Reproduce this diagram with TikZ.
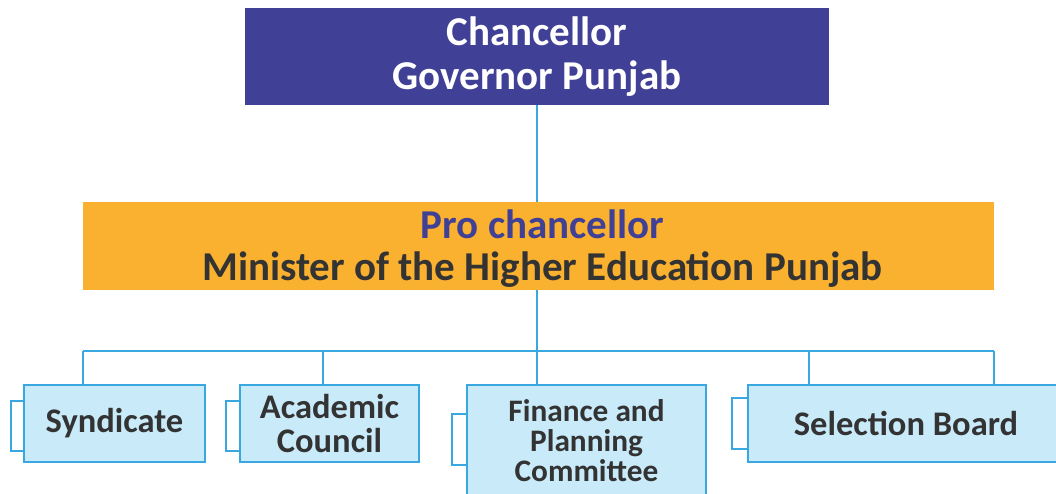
\documentclass[tikz,border=0pt]{standalone}
\usepackage{fontspec}
\setmainfont{Carlito}
\definecolor{chanc}{HTML}{3F4096}
\definecolor{proc}{HTML}{FAB12F}
\definecolor{lbfill}{HTML}{C8EAF9}
\definecolor{lbline}{HTML}{3AA8E0}
\definecolor{dtext}{HTML}{333333}
\tikzset{
  topbox/.style={rectangle, fill=chanc, text=white, align=center, inner sep=0pt,
    font=\fontsize{41}{44}\selectfont\bfseries},
  probox/.style={rectangle, fill=proc, text=dtext, align=center, inner sep=0pt,
    font=\fontsize{41}{42}\selectfont\bfseries},
  subbox/.style={rectangle, fill=lbfill, draw=lbline, line width=1.5pt, text=dtext, align=center, inner sep=0pt,
    font=\fontsize{34.5}{34}\selectfont\bfseries},
  conn/.style={draw=lbline, line width=1.4pt},
  bracket/.style={draw=lbline, line width=1.4pt, fill=white}
}
\begin{document}
\begin{tikzpicture}[x=1pt,y=-1pt]
\useasboundingbox (0,0) rectangle (1056,493);
\clip (0,0) rectangle (1056,493);
\fill[white] (0,0) rectangle (1056,493);

\node[topbox, minimum width=584pt, minimum height=97pt] (chan) at (537,56.5) {Chancellor\\Governor Punjab};
\node[probox, minimum width=911pt, minimum height=88pt] (pro) at (538.5,246) {};
\node[probox, fill=none] (protext) at (542.5,248.5) {\textcolor{chanc}{Pro chancellor}\\Minister of the Higher Education Punjab};

% brackets
\draw[bracket] (24,401) -- (11,401) -- (11,451) -- (24,451);
\draw[bracket] (240,401) -- (226,401) -- (226,451) -- (240,451);
\draw[bracket] (467,414) -- (452,414) -- (452,465) -- (467,465);
\draw[bracket] (748,398) -- (732,398) -- (732,449) -- (748,449);

\node[subbox, minimum width=181pt, minimum height=77pt] (syn) at (114.5,423.5) {Syndicate};
\node[subbox, minimum width=179pt, minimum height=77pt] (aca) at (329.5,423.5) {Academic\\Council};
\node[subbox, minimum width=239pt, minimum height=120pt] (fin) at (586.5,445) {};
\node[text=dtext, align=center, inner sep=0pt, font=\fontsize{31.3}{30}\selectfont\bfseries] (fintext) at (586.5,440.5) {Finance and\\Planning\\Committee};
\node[subbox, minimum width=316pt, minimum height=77pt] (sel) at (906,423.5) {Selection Board};

% connectors
\coordinate (bL) at (83,351);
\coordinate (bA) at (323,351);
\coordinate (bM) at (537,351);
\coordinate (bS) at (809,351);
\coordinate (bR) at (994,351);
\draw[conn] (chan.south -| bM) -- (pro.north -| bM);
\draw[conn] (pro.south -| bM) -- (bM);
\draw[conn] (bL) -- (bR);
\draw[conn] (bL) -- (bL |- syn.north);
\draw[conn] (bA) -- (bA |- aca.north);
\draw[conn] (bM) -- (bM |- fin.north);
\draw[conn] (bS) -- (bS |- sel.north);
\draw[conn] (bR) -- (bR |- sel.north);
\end{tikzpicture}
\end{document}
